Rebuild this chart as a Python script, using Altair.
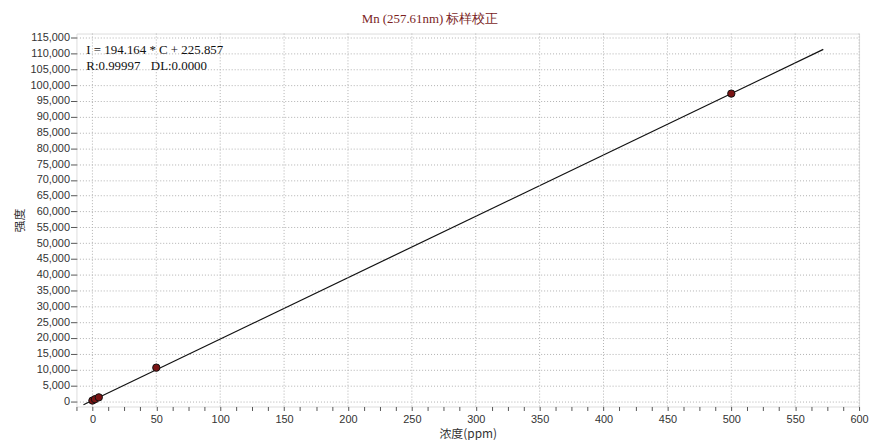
import altair as alt
import pandas as pd

# calibration standards (concentration ppm, intensity)
conc = [0, 2, 5, 50, 500]
intensity = [180, 620, 1200, 10600, 97300]

# fitted line endpoints (I = 194.164 * C + 225.857)
line_c = [-7, 572]
line_i = [-1133, 111285]

x_grid = [0, 50, 100, 150, 200, 250, 300, 350, 400, 450, 500, 550, 600]
x_ticks = [v * 12.5 for v in range(-1, 49)]
y_ticks = list(range(0, 115001, 5000))

title = "Mn (257.61nm) 标样校正"
eq_text = "I = 194.164 * C + 225.857"
r_text = "R:0.99997"
dl_text = "DL:0.0000"

pts = pd.DataFrame({"c": conc, "i": intensity})
ln = pd.DataFrame({"c": line_c, "i": line_i})
gx = pd.DataFrame({"c": x_grid, "i": [0] * len(x_grid)})

xs = alt.Scale(domain=[-12.5, 600], nice=False, zero=False)
ys = alt.Scale(domain=[-1700, 116300], nice=False, zero=False)

xaxis = alt.Axis(
    values=x_ticks, grid=False, domain=False, tickSize=4, tickColor="#555",
    labelExpr="datum.value % 50 == 0 ? format(datum.value, 'd') : ''",
    labelFont="Liberation Sans", labelFontSize=11, labelColor="#333",
    labelOverlap=False, labelFlush=False, labelPadding=3,
    title="浓度(ppm)", titleFont="Noto Sans CJK SC", titleFontSize=12,
    titleFontWeight="normal", titleColor="#333", titlePadding=4,
)
yaxis = alt.Axis(
    values=y_ticks, grid=True, gridColor="#b0b0b0", gridDash=[1, 2],
    domain=False, tickSize=6, tickColor="#555", format=",.0f",
    labelFont="Liberation Sans", labelFontSize=11, labelColor="#333",
    labelPadding=1, labelOverlap=False, labelFlush=False,
    title="强度", titleFont="Noto Sans CJK SC", titleFontSize=12,
    titleFontWeight="normal", titleColor="#333", titlePadding=4,
)

X = alt.X("c:Q", scale=xs, axis=xaxis)
Y = alt.Y("i:Q", scale=ys, axis=yaxis)

grid = alt.Chart(gx).mark_rule(color="#b0b0b0", strokeDash=[1, 2], strokeWidth=1).encode(
    x=X, y=alt.value(0), y2=alt.value(376)
)

line = alt.Chart(ln).mark_line(color="#111", strokeWidth=1.2, clip=True).encode(x=X, y=Y)

points = alt.Chart(pts).mark_point(
    shape="circle", filled=True, size=55, fill="#7a1414", stroke="#111", strokeWidth=1, opacity=1
).encode(x=X, y=Y)

def label(txt, px, py):
    return alt.Chart(pd.DataFrame({"t": [txt]})).mark_text(
        font="Liberation Serif", fontSize=13, color="#111", align="left", baseline="middle"
    ).encode(x=alt.value(px), y=alt.value(py), text="t:N")

chart = alt.layer(
    line, grid, points,
    label(eq_text, 10, 17), label(r_text, 10, 33), label(dl_text, 75, 33),
).properties(
    width=789, height=376,
    title=alt.TitleParams(
        title, font="Liberation Serif", fontSize=13, fontWeight="normal",
        color="#7b1f1f", anchor="middle", dx=-38, offset=6,
    ),
    autosize=alt.AutoSizeParams(type="none"),
    padding={"left": 69, "top": 24, "right": 10, "bottom": 32},
).configure_view(stroke="#333", strokeWidth=1.5).configure(background="white")

chart.save("out.html", embed_options={"renderer": "svg", "actions": False})
